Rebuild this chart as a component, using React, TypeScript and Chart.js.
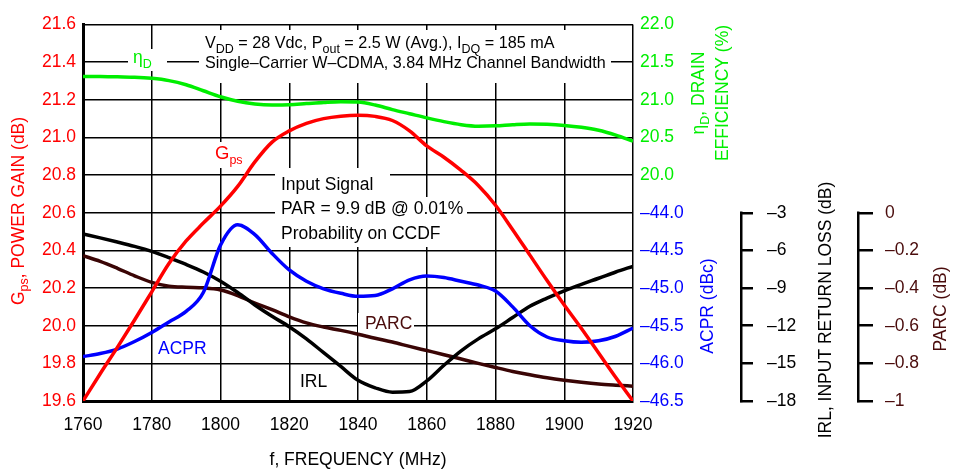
import { useEffect, useRef } from 'react';
import { Chart, registerables } from 'chart.js';

Chart.register(...registerables);

const FONT = '"Liberation Sans", Arial, Helvetica, sans-serif';
const RED = '#ff0000';
const GREEN = '#00ee00';
const BLUE = '#0000ff';
const BROWN = '#3a0505';
const BROWN_TEXT = '#4a0c0c';

// ---- data ----
const frequencies = [
  1760, 1765, 1770, 1775, 1780, 1785, 1790, 1795, 1800, 1805, 1810,
  1815, 1820, 1825, 1830, 1835, 1840, 1845, 1850, 1855, 1860, 1865,
  1870, 1875, 1880, 1885, 1890, 1895, 1900, 1905, 1910, 1915, 1920,
];

const gpsValues = [
  19.6, 19.745, 19.885, 20.03, 20.18, 20.33, 20.45, 20.545, 20.635, 20.74, 20.87,
  20.975, 21.035, 21.075, 21.1, 21.113, 21.118, 21.112, 21.09, 21.035, 20.955, 20.895,
  20.825, 20.745, 20.64, 20.51, 20.375, 20.24, 20.11, 19.985, 19.855, 19.725, 19.6,
];

const efficiencyValues = [
  21.31, 21.31, 21.305, 21.3, 21.285, 21.255, 21.2, 21.12, 21.04, 20.98, 20.945,
  20.932, 20.935, 20.95, 20.965, 20.975, 20.97, 20.93, 20.87, 20.815, 20.76, 20.71,
  20.67, 20.65, 20.655, 20.67, 20.68, 20.675, 20.66, 20.635, 20.595, 20.53, 20.45,
];

const acprValues = [
  -45.91, -45.87, -45.81, -45.71, -45.59, -45.45, -45.31, -45.06, -44.43, -44.16, -44.29,
  -44.54, -44.76, -44.91, -45.01, -45.07, -45.11, -45.1, -45.01, -44.89, -44.84, -44.86,
  -44.91, -44.96, -45.04, -45.25, -45.5, -45.65, -45.7, -45.72, -45.7, -45.64, -45.53,
];

const irlValues = [
  -4.69, -5.0, -5.33, -5.68, -6.08, -6.58, -7.12, -7.72, -8.45, -9.35, -10.35,
  -11.25, -12.08, -13.05, -14.15, -15.25, -16.35, -16.95, -17.3, -17.25, -16.4, -15.15,
  -14.0, -13.05, -12.25, -11.35, -10.45, -9.8, -9.22, -8.7, -8.22, -7.72, -7.27,
];

const parcValues = [
  -0.228, -0.258, -0.295, -0.335, -0.37, -0.39, -0.396, -0.399, -0.41, -0.44, -0.48,
  -0.515, -0.553, -0.585, -0.607, -0.625, -0.645, -0.667, -0.687, -0.71, -0.732, -0.754,
  -0.777, -0.8, -0.822, -0.843, -0.861, -0.877, -0.89, -0.901, -0.91, -0.916, -0.921,
];

// tick labels of the shared right-hand axis (grid rows 0..10 from bottom)
const acprTickLabels = ['\u201346.5', '\u201346.0', '\u201345.5', '\u201345.0', '\u201344.5', '\u201344.0'];
const efficiencyTickLabels = ['20.0', '20.5', '21.0', '21.5', '22.0'];
const irlTickLabels = ['\u20133', '\u20136', '\u20139', '\u201312', '\u201315', '\u201318'];
const parcTickLabels = ['0', '\u20130.2', '\u20130.4', '\u20130.6', '\u20130.8', '\u20131'];

// ---- text drawing helpers ----
type Seg = { t: string; sub?: boolean; size?: number };
type TextItem = { segs: Seg[]; x: number; y: number; color: string; rotate?: boolean; center?: boolean; size?: number };

const BASE = 17.5;
const SUB = 12.5;

function drawRich(ctx: CanvasRenderingContext2D, item: TextItem) {
  const size = item.size ?? BASE;
  ctx.save();
  ctx.translate(item.x, item.y);
  if (item.rotate) ctx.rotate(-Math.PI / 2);
  ctx.fillStyle = item.color;
  ctx.textAlign = 'left';
  ctx.textBaseline = 'alphabetic';
  const fontFor = (s: Seg) => `${s.sub ? SUB : s.size ?? size}px ${FONT}`;
  let w = 0;
  for (const s of item.segs) {
    ctx.font = fontFor(s);
    w += ctx.measureText(s.t).width;
  }
  let cx = item.center ? -w / 2 : 0;
  for (const s of item.segs) {
    ctx.font = fontFor(s);
    ctx.fillText(s.t, cx, s.sub ? 4.5 : 0);
    cx += ctx.measureText(s.t).width;
  }
  ctx.restore();
}

const WHITE_BOXES: [number, number, number, number][] = [
  [199, 30, 611, 83],
  [128, 49, 167, 71],
  [211, 142, 247, 168],
  [275, 168, 390, 197],
  [275, 197, 467, 221],
  [275, 221, 441, 247],
  [358, 313, 414, 335],
];

const TEXTS: TextItem[] = [
  { segs: [{ t: 'G' }, { t: 'ps', sub: true }, { t: ', POWER GAIN (dB)' }], x: 23.5, y: 211, color: RED, rotate: true, center: true },
  { segs: [{ t: '\u03b7' }, { t: 'D', sub: true }, { t: ', DRAIN' }], x: 704, y: 93, color: GREEN, rotate: true, center: true },
  { segs: [{ t: 'EFFICIENCY (%)' }], x: 728, y: 93, color: GREEN, rotate: true, center: true },
  { segs: [{ t: 'ACPR (dBc)' }], x: 713, y: 306, color: BLUE, rotate: true, center: true },
  { segs: [{ t: 'IRL, INPUT RETURN LOSS (dB)' }], x: 831, y: 310, color: '#000', rotate: true, center: true },
  { segs: [{ t: 'PARC (dB)' }], x: 946, y: 309, color: BROWN_TEXT, rotate: true, center: true },
  {
    segs: [
      { t: 'V' }, { t: 'DD', sub: true }, { t: ' = 28 Vdc, P' }, { t: 'out', sub: true },
      { t: ' = 2.5 W (Avg.), I' }, { t: 'DQ', sub: true }, { t: ' = 185 mA' },
    ],
    x: 205, y: 48, color: '#000', size: 16.2,
  },
  { segs: [{ t: 'Single\u2013Carrier W\u2013CDMA, 3.84 MHz Channel Bandwidth' }], x: 205, y: 68, color: '#000', size: 16.1 },
  { segs: [{ t: '\u03b7' }, { t: 'D', sub: true }], x: 133, y: 63, color: GREEN },
  { segs: [{ t: 'G', size: 18.5 }, { t: 'ps', sub: true }], x: 215, y: 159, color: RED },
  { segs: [{ t: 'Input Signal' }], x: 281, y: 189.5, color: '#000' },
  { segs: [{ t: 'PAR = 9.9 dB @ 0.01%' }], x: 281, y: 214, color: '#000' },
  { segs: [{ t: 'Probability on CCDF' }], x: 281, y: 238.5, color: '#000' },
  { segs: [{ t: 'ACPR' }], x: 158, y: 354, color: BLUE },
  { segs: [{ t: 'IRL' }], x: 300, y: 387, color: '#000' },
  { segs: [{ t: 'PARC' }], x: 365, y: 329, color: BROWN_TEXT },
];

const annotationPlugin = {
  id: 'annotations',
  beforeDatasetsDraw(chart: any) {
    const ctx = chart.ctx as CanvasRenderingContext2D;
    ctx.save();
    ctx.fillStyle = '#ffffff';
    for (const [x1, y1, x2, y2] of WHITE_BOXES) ctx.fillRect(x1, y1, x2 - x1, y2 - y1);
    ctx.restore();
  },
  afterDraw(chart: any) {
    const ctx = chart.ctx as CanvasRenderingContext2D;
    const spine = (scale: any, from: number, to: number) => {
      const x = scale.left + 1.25;
      ctx.save();
      ctx.strokeStyle = '#000';
      ctx.lineWidth = 2.5;
      ctx.beginPath();
      ctx.moveTo(x, scale.getPixelForValue(from) - 1.25);
      ctx.lineTo(x, scale.getPixelForValue(to) + 1.25);
      ctx.stroke();
      ctx.restore();
    };
    spine(chart.scales.yIrl, -3, -18);
    spine(chart.scales.yParc, 0, -1);
    for (const t of TEXTS) drawRich(ctx, t);
  },
};

const series = (vals: number[]) => frequencies.map((f, i) => ({ x: f, y: vals[i] }));

export default function App() {
  const ref = useRef<HTMLCanvasElement>(null);

  useEffect(() => {
    const canvas = ref.current;
    if (!canvas) return;
    Chart.defaults.font.family = FONT;
    Chart.defaults.font.size = BASE;
    Chart.defaults.color = '#000';

    const lineDs = (label: string, vals: number[], color: string, axis: string) => ({
      label,
      data: series(vals),
      yAxisID: axis,
      borderColor: color,
      backgroundColor: color,
      borderWidth: 3.5,
      pointRadius: 0,
      fill: false,
      cubicInterpolationMode: 'monotone' as const,
    });

    const chart = new Chart(canvas, {
      type: 'line',
      data: {
        datasets: [
          lineDs('Gps', gpsValues, RED, 'y'),
          lineDs('Efficiency', efficiencyValues, GREEN, 'yEff'),
          lineDs('ACPR', acprValues, BLUE, 'yAcpr'),
          lineDs('IRL', irlValues, '#000', 'yIrl'),
          lineDs('PARC', parcValues, BROWN, 'yParc'),
        ],
      },
      options: {
        animation: false,
        responsive: false,
        maintainAspectRatio: false,
        events: [],
        layout: { padding: { top: 20, left: 0, right: 0, bottom: 0 } },
        plugins: { legend: { display: false }, tooltip: { enabled: false } },
        scales: {
          x: {
            type: 'linear',
            min: 1760,
            max: 1920,
            ticks: {
              stepSize: 20, autoSkip: false, maxRotation: 0, padding: 14, color: '#000', font: { size: BASE },
              callback: (v: any) => String(Math.round(Number(v))),
            },
            grid: { color: '#000', lineWidth: 1.5, drawTicks: false },
            border: { display: true, color: '#000', width: 3 },
            title: { display: true, text: 'f, FREQUENCY (MHz)', color: '#000', font: { size: BASE }, padding: { top: 0, bottom: 0 } },
            afterFit: (s: any) => { s.height = 70; },
          },
          y: {
            type: 'linear',
            position: 'left',
            min: 19.6,
            max: 21.6,
            ticks: {
              stepSize: 0.2, autoSkip: false, padding: 7, color: RED, font: { size: BASE },
              callback: (v: any) => Number(v).toFixed(1),
            },
            grid: { color: '#000', lineWidth: 1.5, drawTicks: false },
            border: { display: true, color: '#000', width: 3 },
            afterFit: (s: any) => { s.width = 83; },
          },
          yR: {
            type: 'linear',
            position: 'right',
            weight: 0,
            min: 0,
            max: 10,
            ticks: {
              stepSize: 1, autoSkip: false, padding: 7, font: { size: BASE },
              color: (c: any) => (c.tick && c.tick.value >= 6 ? GREEN : BLUE),
              callback: (v: any) => {
                const k = Math.round(Number(v));
                return k >= 6 ? efficiencyTickLabels[k - 6] : acprTickLabels[k];
              },
            },
            grid: { display: false, drawTicks: false },
            border: { display: false },
            afterFit: (s: any) => { s.width = 107; },
          },
          yIrl: {
            type: 'linear',
            position: 'right',
            weight: 1,
            min: -18,
            max: 12,
            ticks: {
              stepSize: 3, autoSkip: false, padding: 14, color: '#000', font: { size: BASE },
              callback: (v: any) => {
                const n = Number(v);
                return n <= -3 ? irlTickLabels[Math.round((-3 - n) / 3)] : '';
              },
            },
            grid: {
              drawOnChartArea: false, drawTicks: true, tickLength: 13, lineWidth: 2.5,
              color: (c: any) => (c.tick && c.tick.value <= -3 ? '#000' : 'rgba(0,0,0,0)'),
            },
            border: { display: false },
            afterFit: (s: any) => { s.width = 117; },
          },
          yParc: {
            type: 'linear',
            position: 'right',
            weight: 2,
            min: -1,
            max: 1,
            ticks: {
              stepSize: 0.2, autoSkip: false, padding: 12, color: BROWN_TEXT, font: { size: BASE },
              callback: (v: any) => {
                const n = Number(v);
                return n <= 0.001 ? parcTickLabels[Math.round(-n / 0.2)] : '';
              },
            },
            grid: {
              drawOnChartArea: false, drawTicks: true, tickLength: 16, lineWidth: 2.5,
              color: (c: any) => (c.tick && c.tick.value <= 0.001 ? '#000' : 'rgba(0,0,0,0)'),
            },
            border: { display: false },
            afterFit: (s: any) => { s.width = 97; },
          },
          yEff: { type: 'linear', display: false, position: 'right', weight: 3, min: 17, max: 22 },
          yAcpr: { type: 'linear', display: false, position: 'right', weight: 4, min: -46.5, max: -41.5 },
        },
      } as any,
      plugins: [annotationPlugin],
    });
    return () => chart.destroy();
  }, []);

  return (
    <div style={{ position: 'fixed', left: 0, top: 0, width: 954, height: 471, background: '#fff' }}>
      <canvas ref={ref} width={954} height={471} style={{ display: 'block', width: 954, height: 471 }} />
    </div>
  );
}
